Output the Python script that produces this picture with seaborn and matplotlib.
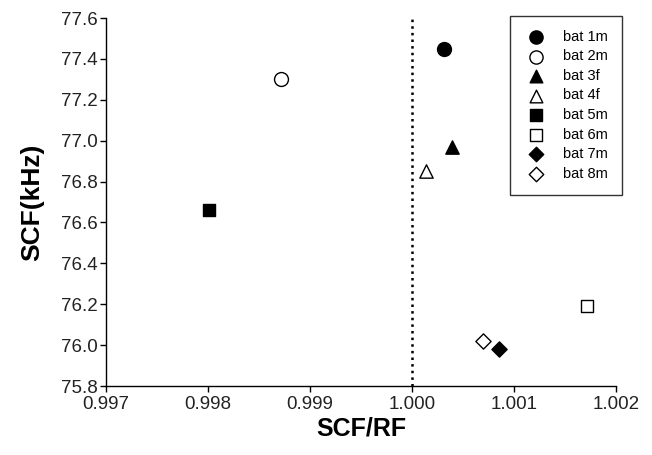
import matplotlib
matplotlib.use("Agg")
import matplotlib.pyplot as plt
import seaborn as sns
import pandas as pd

bats = ["bat 1m", "bat 2m", "bat 3f", "bat 4f", "bat 5m", "bat 6m", "bat 7m", "bat 8m"]
scf_rf = [1.00031, 0.99872, 1.00039, 1.00014, 0.99801, 1.00172, 1.00085, 1.00070]
scf_khz = [77.45, 77.30, 76.97, 76.85, 76.66, 76.19, 75.98, 76.02]
fills = ["black", "white", "black", "white", "black", "white", "black", "white"]
marker_shapes = ["o", "o", "^", "^", "s", "s", "D", "D"]
x_ticks = [0.997, 0.998, 0.999, 1.000, 1.001, 1.002]
y_ticks = [75.8, 76.0, 76.2, 76.4, 76.6, 76.8, 77.0, 77.2, 77.4, 77.6]

df = pd.DataFrame({"bat": bats, "SCF/RF": scf_rf, "SCF(kHz)": scf_khz})

sns.set_style("ticks")
plt.rcParams["font.family"] = ["Liberation Sans", "DejaVu Sans"]
plt.rcParams["text.color"] = "black"
plt.rcParams["axes.labelcolor"] = "black"

fig = plt.figure(figsize=(6.52, 4.55), dpi=100)
ax = fig.add_axes([106/652, 1-386/455, 510/652, 368/455])

sizes_map = {"o": 100, "^": 92, "s": 72, "D": 60}
for b, x, y, f, m in zip(bats, scf_rf, scf_khz, fills, marker_shapes):
    sns.scatterplot(x=[x], y=[y], ax=ax, marker=m, color=f, edgecolor="black",
                    linewidth=1.0, s=sizes_map[m], label=b, zorder=3)

ax.axvline(1.0, color="black", linestyle=":", linewidth=1.8, zorder=1)

ax.set_xlim(0.997, 1.002)
ax.set_ylim(75.8, 77.6)
ax.set_xticks(x_ticks)
ax.set_xticklabels([f"{v:.3f}" for v in x_ticks])
ax.set_yticks(y_ticks)
ax.set_yticklabels([f"{v:.1f}" for v in y_ticks])
ax.tick_params(axis="both", direction="out", length=4, width=1, labelsize=13.5,
               colors="black", labelcolor="#222222")
ax.tick_params(axis="x", pad=3)
ax.tick_params(axis="y", pad=2)
for sp in ["top", "right"]:
    ax.spines[sp].set_visible(False)
for sp in ["left", "bottom"]:
    ax.spines[sp].set_color("black")
    ax.spines[sp].set_linewidth(1)

ax.set_xlabel("SCF/RF", fontsize=18, fontweight="bold", labelpad=3)
ax.set_ylabel("SCF(kHz)", fontsize=19, fontweight="bold", labelpad=12)

leg = ax.legend(loc="upper right", bbox_to_anchor=(622/652, 1-16/455),
                bbox_transform=fig.transFigure, borderaxespad=0,
                fontsize=10.5, frameon=True, fancybox=False, edgecolor="black",
                handletextpad=1.1, labelspacing=0.38, borderpad=0.95, handlelength=1.6,
                markerscale=0.95)
leg.get_frame().set_linewidth(1)

fig.savefig("out.png", dpi=100)
